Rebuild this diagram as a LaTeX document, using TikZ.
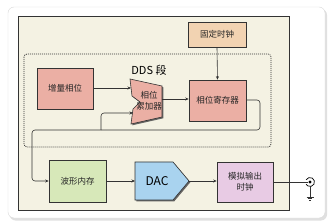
\documentclass[tikz,border=0pt]{standalone}
\usepackage{fontspec}
\setmainfont{Noto Sans CJK SC}
\usetikzlibrary{shadows,arrows.meta,calc}
\definecolor{beige}{HTML}{F4F2E3}
\definecolor{salmon}{HTML}{EBAFA4}
\definecolor{peach}{HTML}{F2D3B2}
\definecolor{mint}{HTML}{D7E8B9}
\definecolor{sky}{HTML}{A9D3EF}
\definecolor{lilac}{HTML}{E8CBE4}
\definecolor{edge}{HTML}{333333}
\definecolor{txt}{HTML}{262626}
\tikzset{
  shd/.style={drop shadow={shadow xshift=1.3pt, shadow yshift=-1.3pt, fill=black!70, opacity=0.85}},
  blk/.style={draw=edge, line width=0.6pt, minimum width=#1, align=center,
    text=txt, font=\fontsize{8.5}{11}\selectfont, shd},
  wire/.style={draw=edge, line width=0.6pt},
  arr/.style={wire, -{Stealth[length=3.5pt,width=3pt]}},
}
\begin{document}
\begin{tikzpicture}[x=1pt,y=-1pt]
\useasboundingbox (0,0) rectangle (329,224);
% card
\fill[black!12, rounded corners=6pt] (9.5,9) rectangle (327,220.5);
\draw[draw=black!15, fill=white, rounded corners=6pt] (8,7) rectangle (325,218);
% panel
\draw[draw=edge, line width=0.7pt, fill=beige] (18,16) rectangle (289,210);
% dds region
\draw[draw=edge, line width=0.75pt, dash pattern=on 1pt off 1pt, rounded corners=3pt] (24,54) rectangle (271,147);
\node[text=black, font=\fontsize{11}{13}\selectfont] (dds) at (149,70) {DDS 段};

% blocks
\node[blk=58pt, minimum height=25pt, fill=peach] (clk) at (217,34.5) {固定时钟};
\node[blk=56pt, minimum height=41pt, fill=salmon] (inc) at (65,88.5) {增量相位};
\node[blk=57pt, minimum height=41pt, fill=salmon] (reg) at (217.5,100.5) {相位寄存器};
\node[blk=57pt, minimum height=42pt, fill=mint] (wave) at (77.5,181) {波形内存};
\node[blk=56pt, minimum height=40pt, fill=lilac] (ana) at (245,182) {模拟输出\\时钟};

% accumulator
\draw[draw=edge, line width=0.6pt, fill=salmon, shd]
  (130,79) -- (162,86) -- (162,117) -- (131,124) -- (133,109) -- (140,102) -- (132,96) -- cycle;
\node[text=txt, align=center, font=\fontsize{8.5}{11}\selectfont] (acc) at (149,101) {相位\\累加器};
\coordinate (accin1) at (131,88);
\coordinate (accin2) at (133,113);
\coordinate (accout) at (162,99);

% DAC
\draw[draw=edge, line width=0.6pt, fill=sky, shd]
  (135,162) -- (173,162) -- (189,181) -- (173,200) -- (135,200) -- cycle;
\node[text=black, font=\fontsize{12}{14}\selectfont] (dac) at (157,181) {DAC};
\coordinate (dacin) at (135,181);
\coordinate (dacout) at (189,181);

% connector
\coordinate (jack) at (310,182);
\coordinate (gnd) at (310,197);

% wires
\draw[arr] (clk.south) -- (reg.north);
\draw[arr] (inc.east |- accin1) -- (accin1);
\draw[arr] (accout) -- (reg.west |- accout);
\draw[wire, rounded corners=3pt] (reg.east |- 0,100) -- (260,100) -- (260,130) -- (101,130);
\draw[arr, rounded corners=3pt] (101,130) -- (101,113) -- (accin2);
\draw[arr, rounded corners=3pt] (101,130) -- (32,130) -- (32,181) -- (wave.west);
\draw[arr] (wave.east) -- (dacin);
\draw[arr] (dacout) -- (ana.west |- dacout);
\draw[wire] (ana.east |- jack) -- ($(jack)+(-2,0)$);
% jack symbol
\fill[black] (jack) circle (1.6pt);
\draw[black, line width=0.7pt] ($(jack)+(150:4.5pt)$) arc[start angle=150, end angle=-150, radius=4.5pt];
\draw[edge, line width=0.6pt] ($(jack)+(0,4.5)$) -- (gnd);
\draw[edge, line width=0.7pt] ($(gnd)+(-3.5,0)$) -- ($(gnd)+(3.5,0)$);
\draw[edge, line width=0.6pt] ($(gnd)+(-2.2,1.6)$) -- ($(gnd)+(2.2,1.6)$);
\draw[edge, line width=0.5pt] ($(gnd)+(-1,3.2)$) -- ($(gnd)+(1,3.2)$);
\end{tikzpicture}
\end{document}
